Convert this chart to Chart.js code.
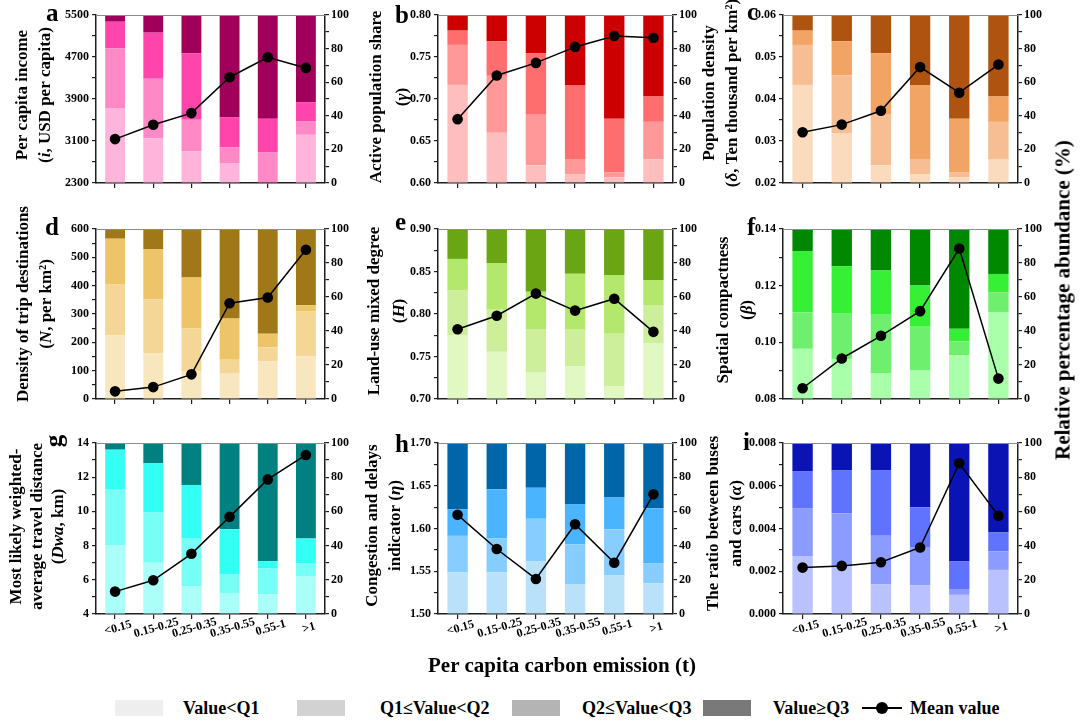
<!DOCTYPE html>
<html><head><meta charset="utf-8">
<script src="https://cdn.jsdelivr.net/npm/chart.js@4.4.1/dist/chart.umd.min.js"></script>
<style>
html,body{margin:0;padding:0;background:#fff;}
#wrap{position:relative;width:1083px;height:722px;overflow:hidden;background:#fff;font-family:'Liberation Serif','Times New Roman',serif;font-weight:bold;color:#000;}
canvas{position:absolute;}
.t{position:absolute;white-space:nowrap;}
.box{position:absolute;height:16px;top:700px;}
</style></head><body><div id="wrap"></div>
<script>
// ---------- DATA ----------
const categories = ['<0.15','0.15-0.25','0.25-0.35','0.35-0.55','0.55-1','>1'];
const legendLabels = ['Value<Q1','Q1≤Value<Q2','Q2≤Value<Q3','Value≥Q3','Mean value'];
const xTitle = 'Per capita carbon emission (t)';
const rightTitle = 'Relative percentage abundance (%)';

// a: per capita income
const a_q1 = [44.6, 26.7, 18.8, 11.9, 0.0, 28.7];
const a_q2 = [35.6, 35.3, 18.8, 9.3, 18.4, 7.9];
const a_q3 = [15.8, 27.5, 39.6, 17.8, 19.8, 11.5];
const a_q4 = [4.0, 10.5, 22.8, 61.0, 61.8, 51.9];
const a_mean = [3136, 3409, 3631, 4315, 4695, 4492];
const a_ticks = [2300, 5500, 400];
// b: active population share
const b_q1 = [58.4, 29.9, 10.5, 5.3, 3.4, 14.1];
const b_q2 = [23.8, 33.9, 30.1, 9.0, 2.9, 22.3];
const b_q3 = [8.5, 20.6, 36.6, 44.1, 31.9, 15.1];
const b_q4 = [9.3, 15.6, 22.8, 41.6, 61.8, 48.5];
const b_mean = [0.676, 0.728, 0.743, 0.762, 0.775, 0.773];
const b_ticks = [0.60, 0.80, 0.025];
// c: population density
const c_q1 = [58.4, 29.7, 10.5, 5.3, 3.4, 13.9];
const c_q2 = [23.8, 34.3, 30.1, 9.0, 3.1, 22.5];
const c_q3 = [8.5, 20.4, 36.6, 44.1, 31.7, 15.1];
const c_q4 = [9.3, 15.6, 22.8, 41.6, 61.8, 48.5];
const c_mean = [0.0321, 0.0339, 0.0372, 0.0476, 0.0415, 0.0482];
const c_ticks = [0.02, 0.06, 0.005];
// d: density of trip destinations
const d_q1 = [37.5, 27.1, 16.5, 14.9, 22.2, 25.1];
const d_q2 = [29.8, 31.5, 25.1, 8.2, 8.2, 26.5];
const d_q3 = [27.0, 29.6, 29.8, 24.2, 8.0, 3.5];
const d_q4 = [5.7, 11.8, 28.6, 52.7, 61.6, 44.9];
const d_mean = [27, 42, 87, 338, 358, 527];
const d_ticks = [0, 600, 50];
// e: land-use mixed degree
const e_q1 = [37.3, 27.8, 15.5, 19.2, 7.3, 32.9];
const e_q2 = [26.6, 24.7, 25.3, 22.0, 31.1, 22.4];
const e_q3 = [18.5, 27.5, 22.3, 32.5, 34.5, 14.7];
const e_q4 = [17.6, 20.0, 36.9, 26.3, 27.1, 30.0];
const e_mean = [0.782, 0.798, 0.824, 0.804, 0.818, 0.779];
const e_ticks = [0.70, 0.90, 0.025];
// f: spatial compactness
const f_q1 = [29.5, 23.6, 15.2, 16.7, 25.8, 51.2];
const f_q2 = [21.5, 27.0, 34.8, 25.8, 8.1, 11.4];
const f_q3 = [36.0, 27.5, 25.6, 24.2, 7.4, 11.0];
const f_q4 = [13.0, 21.9, 24.4, 33.3, 58.7, 26.4];
const f_mean = [0.0838, 0.0943, 0.1023, 0.1110, 0.1331, 0.0872];
const f_ticks = [0.08, 0.14, 0.01];
// g: most likely weighted-average travel distance
const g_q1 = [40.4, 29.9, 16.4, 12.3, 11.5, 21.9];
const g_q2 = [32.3, 29.5, 28.1, 11.1, 15.1, 7.8];
const g_q3 = [23.4, 28.7, 30.9, 26.2, 4.3, 14.4];
const g_q4 = [3.9, 11.9, 24.6, 50.4, 69.1, 55.9];
const g_mean = [5.31, 5.97, 7.52, 9.68, 11.87, 13.30];
const g_ticks = [4, 14, 1];
// h: congestion and delays indicator
const h_q1 = [24.4, 24.4, 30.7, 17.2, 22.7, 18.0];
const h_q2 = [21.3, 19.9, 25.0, 23.6, 26.9, 11.7];
const h_q3 = [15.6, 28.7, 18.1, 23.5, 18.6, 32.2];
const h_q4 = [38.7, 27.0, 26.2, 35.7, 31.8, 38.1];
const h_mean = [1.616, 1.576, 1.541, 1.605, 1.560, 1.640];
const h_ticks = [1.50, 1.70, 0.025];
// i: ratio between buses and cars
const i_q1 = [33.9, 28.0, 17.5, 16.9, 11.2, 25.8];
const i_q2 = [27.7, 30.9, 28.2, 21.9, 3.4, 10.8];
const i_q3 = [21.7, 25.0, 38.2, 23.6, 16.1, 11.0];
const i_q4 = [16.7, 16.1, 16.1, 37.6, 69.3, 52.4];
const i_mean = [0.00217, 0.00225, 0.00242, 0.00311, 0.00705, 0.00460];
const i_ticks = [0, 0.008, 0.001];
const share_ticks = [0, 100, 10];

// ---------- STYLE / LAYOUT ----------
const FONT = "'Liberation Serif','Times New Roman',serif";
const cols = [{l:96,w:229},{l:438,w:235},{l:783,w:235}];
const rows = [{t:15,h:168},{t:229,h:170},{t:443,h:171}];
const LW=96, RW=40, TP=40, XH=8;
const AX = '#1e1e1e';

const panels = [
 {k:'a',c:0,r:0,q:[a_q1,a_q2,a_q3,a_q4],m:a_mean,tk:a_ticks,dec:0,
  title:['Per capita income','(*i*, USD per capita)'],tx:-73,gap:23,ty:-4,ldx:-50,ldy:6,
  colors:['#FFB4DC','#FF88C6','#FF45AC','#A0005A']},
 {k:'b',c:1,r:0,q:[b_q1,b_q2,b_q3,b_q4],m:b_mean,tk:b_ticks,dec:2,
  title:['Active population share','(*γ*)'],tx:-61,gap:26,ty:-2,ldx:-43,ldy:8,
  colors:['#FFBEBE','#FF9898','#FF6E6E','#CC0000']},
 {k:'c',c:2,r:0,q:[c_q1,c_q2,c_q3,c_q4],m:c_mean,tk:c_ticks,dec:2,
  title:['Population density','(*δ*, Ten thousand per km²)'],tx:-73,gap:23,ty:-6,ldx:-36,ldy:5,
  colors:['#FADBBE','#F6BE92','#F1A464','#AF5410']},
 {k:'d',c:0,r:1,q:[d_q1,d_q2,d_q3,d_q4],m:d_mean,tk:d_ticks,dec:0,
  title:['Density of trip destinations','(*N*, per km²)'],tx:-72,gap:23,ty:-10,ldx:-51,ldy:6,
  colors:['#F8E6BE','#F4D696','#EEC468','#A07818']},
 {k:'e',c:1,r:1,q:[e_q1,e_q2,e_q3,e_q4],m:e_mean,tk:e_ticks,dec:2,
  title:['Land-use mixed degree','(*H*)'],tx:-63,gap:25,ty:-3,ldx:-43,ldy:1,
  colors:['#E1F8C3','#CDEE9B','#B4E86C','#6AA514']},
 {k:'f',c:2,r:1,q:[f_q1,f_q2,f_q3,f_q4],m:f_mean,tk:f_ticks,dec:2,
  title:['Spatial compactness','(*β*)'],tx:-59,gap:24,ty:-4,ldx:-36,ldy:6,
  colors:['#AAFFAA','#6EF06E','#36F036','#008800']},
 {k:'g',c:0,r:2,q:[g_q1,g_q2,g_q3,g_q4],m:g_mean,tk:g_ticks,dec:0,
  title:['Most likely weighted-','average travel distance','(*Dwa*, km)'],tx:-79,gap:21,ty:-2,ldx:-40,ldy:-2,
  colors:['#AAFFF9','#77FFF5','#33FFF4','#008080']},
 {k:'h',c:1,r:2,q:[h_q1,h_q2,h_q3,h_q4],m:h_mean,tk:h_ticks,dec:2,
  title:['Congestion and delays','indicator (*η*)'],tx:-65,gap:23,ty:-3,ldx:-43,ldy:9,
  colors:['#B9E1FA','#87CDFF','#4BB4FF','#0066AA']},
 {k:'i',c:2,r:2,q:[i_q1,i_q2,i_q3,i_q4],m:i_mean,tk:i_ticks,dec:3,
  title:['The ratio between buses','and cars (*α*)'],tx:-69,gap:23,ty:-5,ldx:-40,ldy:7,
  colors:['#B9C2FF','#8C9BFF','#5F73FF','#0A14B4']}
];

function drawRich(ctx, text, cx, cy, size){
  const parts = text.split('*');
  const fonts = parts.map((p,i)=>(i%2?'italic ':'')+'bold '+size+'px '+FONT);
  let total=0;
  const ws = parts.map((p,i)=>{ctx.font=fonts[i];const w=ctx.measureText(p).width;total+=w;return w;});
  ctx.save(); ctx.translate(cx,cy); ctx.rotate(-Math.PI/2);
  ctx.textBaseline='middle'; ctx.textAlign='left'; ctx.fillStyle='#000';
  let x=-total/2;
  parts.forEach((p,i)=>{ctx.font=fonts[i];ctx.fillText(p,x,0);x+=ws[i];});
  ctx.restore();
}

const deco = {
  id:'deco',
  afterDraw(chart, args, o){
    const ctx = chart.ctx, ca = chart.chartArea;
    ctx.save();
    // top frame
    ctx.strokeStyle='#8c8c8c'; ctx.lineWidth=1;
    ctx.beginPath(); ctx.moveTo(ca.left, ca.top+0.5); ctx.lineTo(ca.right, ca.top+0.5); ctx.stroke();
    // left axis title
    const cy = (ca.top+ca.bottom)/2 + o.ty;
    o.title.forEach((line,j)=>drawRich(ctx, line, ca.left + o.tx + j*o.gap, cy, 17));
    // panel letter
    ctx.fillStyle='#000';
    ctx.font = 'bold 25px '+FONT;
    if (o.k==='g'){
      ctx.save(); ctx.translate(ca.left+o.ldx, ca.top+o.ldy); ctx.rotate(-Math.PI/2);
      ctx.textAlign='center'; ctx.textBaseline='middle'; ctx.fillText(o.k,0,0); ctx.restore();
    } else {
      ctx.textAlign='left'; ctx.textBaseline='alphabetic';
      ctx.fillText(o.k, ca.left+o.ldx, ca.top+o.ldy);
    }
    // x tick labels (bottom row)
    if (o.showX){
      const xs = chart.scales.x;
      ctx.font='bold 12px '+FONT; ctx.textAlign='center'; ctx.textBaseline='middle';
      categories.forEach((lab,i)=>{
        const px = xs.getPixelForValue(i)+3, py = ca.bottom+14;
        ctx.save(); ctx.translate(px,py); ctx.rotate(-16*Math.PI/180); ctx.fillText(lab,0,0); ctx.restore();
      });
    }
    ctx.restore();
  }
};

const wrap = document.getElementById('wrap');
panels.forEach(p=>{
  const col = cols[p.c], row = rows[p.r];
  const extra = p.r===2 ? 40 : 10;
  const W = LW + col.w + RW, H = TP + row.h + XH + extra;
  const cv = document.createElement('canvas');
  cv.width=W; cv.height=H;
  cv.style.left=(col.l-LW)+'px'; cv.style.top=(row.t-TP)+'px';
  cv.style.width=W+'px'; cv.style.height=H+'px';
  wrap.appendChild(cv);
  const datasets = p.q.map((arr,k)=>({
    type:'bar', data:arr, backgroundColor:p.colors[k], borderWidth:0,
    barPercentage:0.52, categoryPercentage:1, yAxisID:'y1', order:2
  }));
  datasets.push({type:'line', data:p.m, yAxisID:'y', borderColor:'#000', borderWidth:1.5,
    pointRadius:5.3, pointBackgroundColor:'#000', pointBorderColor:'#000', pointBorderWidth:0,
    tension:0, order:0, clip:false});
  const tickFont = {family:FONT, size:12, weight:'bold'};
  new Chart(cv, {
    type:'bar',
    data:{labels:categories, datasets},
    plugins:[deco],
    options:{
      responsive:false, animation:false, devicePixelRatio:1, events:[],
      layout:{padding:{top:TP,bottom:extra,left:0,right:0}},
      plugins:{legend:{display:false}, tooltip:{enabled:false},
        deco:{k:p.k,title:p.title,tx:p.tx,gap:p.gap,ty:p.ty,ldx:p.ldx,ldy:p.ldy,showX:p.r===2}},
      scales:{
        x:{type:'category', offset:true, stacked:true,
          grid:{offset:false, drawOnChartArea:false, drawTicks:true, tickLength:5, color:AX, lineWidth:1.2},
          border:{display:true,color:AX,width:1.5}, ticks:{display:false},
          afterFit:s=>{s.height=XH;}},
        y:{position:'left', min:p.tk[0], max:p.tk[1],
          ticks:{stepSize:p.tk[2], autoSkip:false, font:tickFont, color:'#000', padding:3,
            callback:(v,i)=> i%2===0 ? Number(v).toFixed(p.dec) : ''},
          grid:{drawOnChartArea:false, tickLength:4, color:AX, lineWidth:1.2},
          border:{display:true,color:AX,width:1.5},
          afterFit:s=>{s.width=LW;}},
        y1:{position:'right', min:share_ticks[0], max:share_ticks[1], stacked:true,
          ticks:{stepSize:share_ticks[2], autoSkip:false, font:tickFont, color:'#000', padding:2,
            callback:(v,i)=> i%2===0 ? String(Math.round(v)) : ''},
          grid:{drawOnChartArea:false, tickLength:4, color:AX, lineWidth:1.2},
          border:{display:true,color:AX,width:1.5},
          afterFit:s=>{s.width=RW;}}
      }
    }
  });
});

// ---------- HTML texts: axis title, right title, legend ----------
function addText(txt, left, top, size, extra){
  const d=document.createElement('div'); d.className='t'; d.textContent=txt;
  d.style.left=left+'px'; d.style.top=top+'px'; d.style.fontSize=size+'px';
  if(extra) Object.assign(d.style, extra);
  wrap.appendChild(d); return d;
}
addText(xTitle, 562, 665, 21, {transform:'translate(-50%,-50%)'});
addText(rightTitle, 1063, 300, 21, {transform:'translate(-50%,-50%) rotate(-90deg)'});

const legendBoxColors = ['#EEEEEE','#D2D2D2','#B4B4B4','#797979'];
const boxX = [115, 297, 512, 703];
const textX = [183, 380, 582, 773];
legendBoxColors.forEach((c,k)=>{
  const b=document.createElement('div'); b.className='box';
  b.style.left=boxX[k]+'px'; b.style.width='48px'; b.style.background=c; wrap.appendChild(b);
  addText(legendLabels[k], textX[k], 698, 18, {lineHeight:'20px'});
});
const ln=document.createElement('div');
ln.style.cssText='position:absolute;left:862px;top:707px;width:40px;height:1.5px;background:#000;';
wrap.appendChild(ln);
const dot=document.createElement('div');
dot.style.cssText='position:absolute;left:876px;top:702px;width:12px;height:12px;border-radius:50%;background:#000;';
wrap.appendChild(dot);
addText(legendLabels[4], 910, 698, 18, {lineHeight:'20px'});
</script>
</body></html>
